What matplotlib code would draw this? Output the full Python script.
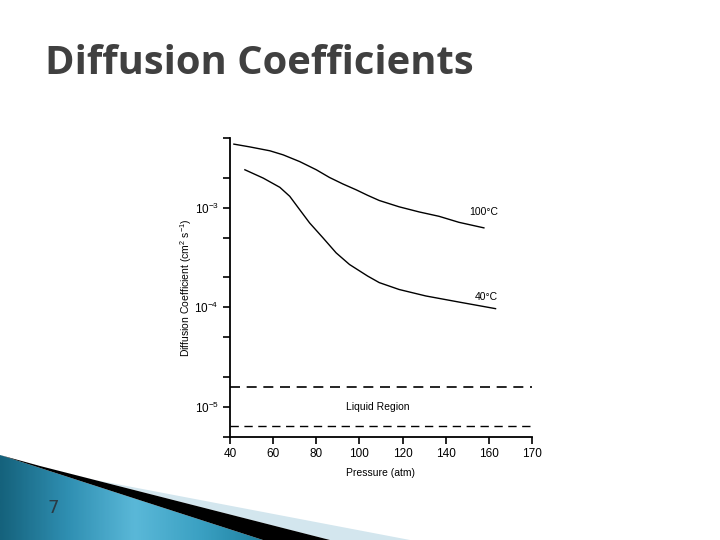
import numpy as np
import matplotlib.pyplot as plt
from matplotlib.patches import Polygon
from matplotlib.colors import LinearSegmentedColormap

# data
pressure_100 = [41.8, 49.2, 58.5, 64.6, 72.3, 80.0, 86.1, 92.3, 98.5, 103.8, 109.2,
                118.4, 127.7, 136.9, 146.1, 157.7]
diff_100 = [4.34e-3, 4.07e-3, 3.72e-3, 3.39e-3, 2.90e-3, 2.40e-3, 2.01e-3, 1.73e-3,
            1.51e-3, 1.33e-3, 1.18e-3, 1.02e-3, 9.06e-4, 8.19e-4, 7.13e-4, 6.27e-4]
pressure_40 = [46.9, 55.4, 63.1, 67.7, 72.3, 76.9, 83.1, 89.2, 95.4, 103.8, 109.2,
               118.4, 130.8, 146.1, 163.1]
diff_40 = [2.40e-3, 1.98e-3, 1.60e-3, 1.30e-3, 9.55e-4, 7.03e-4, 4.98e-4, 3.52e-4,
           2.69e-4, 2.06e-4, 1.77e-4, 1.51e-4, 1.30e-4, 1.13e-4, 9.7e-5]
liquid_upper = 1.58e-5
liquid_lower = 6.5e-6
x_ticks = [40, 60, 80, 100, 120, 140, 160, 180]
x_tick_labels = ['40', '60', '80', '100', '120', '140', '160', '170']
y_ticks = [1e-5, 1e-4, 1e-3]
y_tick_labels = [r'10$^{\mathregular{-5}}$', r'10$^{\mathregular{-4}}$', r'10$^{\mathregular{-3}}$']

plt.rcParams['font.family'] = ['Liberation Sans', 'DejaVu Sans']
fig = plt.figure(figsize=(7.2, 5.4), dpi=100)

# slide decoration (pixel coords)
bg = fig.add_axes([0, 0, 1, 1], zorder=0)
bg.set_xlim(0, 720)
bg.set_ylim(540, 0)
bg.axis('off')
cmap = LinearSegmentedColormap.from_list('slide', ['#15627c', '#2f8fb2', '#5ab8d8', '#3aa0c2', '#1b7d9c'])
grad = np.linspace(0, 1, 300).reshape(1, -1)
im = bg.imshow(grad, cmap=cmap, extent=[0, 270, 540, 450], aspect='auto', zorder=1)
blue = Polygon([(0, 455), (263, 540), (0, 540)], closed=True, facecolor='none', edgecolor='none')
bg.add_patch(blue)
im.set_clip_path(blue)
bg.add_patch(Polygon([(0, 455), (40, 466), (330, 540), (263, 540)], closed=True,
                     facecolor='black', edgecolor='none', zorder=2))
bg.add_patch(Polygon([(90, 479), (410, 540), (330, 540), (40, 466)], closed=True,
                     facecolor='#d3e6ee', edgecolor='none', zorder=1.5))
bg.text(53, 508, '7', fontsize=13, color='#2b3a44', ha='center', va='center',
        family='DejaVu Sans', zorder=3)
bg.text(45, 63, 'Diffusion Coefficients', fontsize=28.8, fontweight='bold', color='#404040',
        family='Open Sans', ha='left', va='center', zorder=3)

# chart
ax = fig.add_axes([230 / 720, 1 - 437 / 540, 302 / 720, 299 / 540], zorder=2)
ax.patch.set_alpha(0)
ax.set_yscale('log')
ax.set_xlim(40, 180)
ax.set_ylim(5e-6, 5e-3)

ax.plot(pressure_100, diff_100, color='black', lw=1.0)
ax.plot(pressure_40, diff_40, color='black', lw=1.0)
ax.axhline(liquid_upper, color='black', lw=1.2, dashes=(6, 4))
ax.axhline(liquid_lower, color='black', lw=1.0, dashes=(6, 4))

ax.text(157.7, 9.1e-4, '100°C', fontsize=7.5, ha='center', va='center')
ax.text(159, 1.26e-4, '40°C', fontsize=7.5, ha='center', va='center')
ax.text(108.3, 1.0e-5, 'Liquid Region', fontsize=7.5, ha='center', va='center')

ax.spines['top'].set_visible(False)
ax.spines['right'].set_visible(False)
ax.spines['left'].set_linewidth(1.3)
ax.spines['bottom'].set_linewidth(1.3)

ax.set_xticks(x_ticks)
ax.set_xticklabels(x_tick_labels, fontsize=8.5)
ax.set_yticks(y_ticks)
ax.set_yticklabels(y_tick_labels, fontsize=8.5)
ax.yaxis.set_minor_locator(plt.matplotlib.ticker.LogLocator(base=10, subs=(2.0, 5.0)))
ax.yaxis.set_minor_formatter(plt.NullFormatter())
ax.tick_params(axis='both', which='both', direction='out', length=5, width=1.2, pad=3)

ax.set_xlabel('Pressure (atm)', fontsize=7.5, labelpad=6)
ax.set_ylabel(r'Diffusion Coefficient (cm$^{\mathregular{2}}$ s$^{\mathregular{-1}}$)',
              fontsize=7.5, labelpad=0.5)

fig.savefig('out.png', dpi=100)
